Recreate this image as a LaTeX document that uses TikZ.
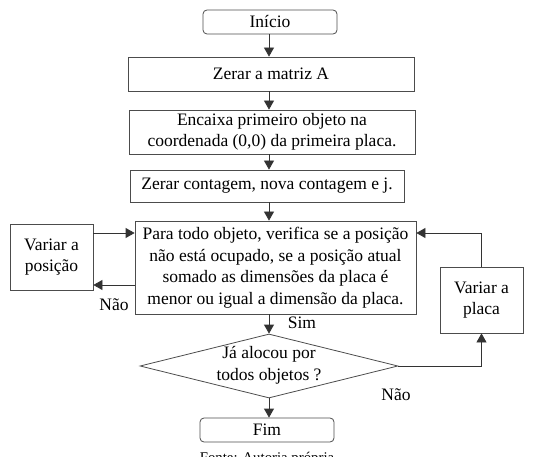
\documentclass[tikz,border=0pt]{standalone}
\usepackage{fontspec}
\setmainfont{Liberation Serif}
\usetikzlibrary{shapes.geometric,arrows.meta}
\begin{document}
\begin{tikzpicture}[x=1pt,y=-1pt,
  txt/.style={font=\fontsize{17.5}{21.5}\selectfont},
  box/.style={txt, draw=black!70, line width=0.8pt, rectangle, inner sep=0pt, align=center},
  term/.style={box, rounded corners=4pt},
  arr/.style={draw=black!80, line width=0.8pt, -{Triangle[length=9pt,width=10pt]}},
  lbl/.style={txt, inner sep=0pt}]
\useasboundingbox (0,0) rectangle (546,457);
\coordinate (spine) at (269,0);
\coordinate (rowA) at (0,233);
\coordinate (rowB) at (0,285);

\node[term, minimum width=134pt, minimum height=24pt] (inicio) at (270,22) {Início};
\node[box, minimum width=286pt, minimum height=34pt] (zerarA) at (271,74) {Zerar a matriz A};
\node[box, minimum width=286pt, minimum height=44pt] (encaixa) at (272,132) {Encaixa primeiro objeto na\\coordenada (0,0) da primeira placa.};
\node[box, minimum width=274pt, minimum height=32pt] (contagem) at (267,186) {Zerar contagem, nova contagem e j.};
\node[box, minimum width=281pt, minimum height=93pt] (main) at (275.5,267.5) {Para todo objeto, verifica se a posição\\não está ocupado, se a posição atual\\somado as dimensões da placa é\\menor ou igual a dimensão da placa.};
\node[box, minimum width=83pt, minimum height=66pt] (posicao) at (51.5,257) {Variar a\\posição};
\node[box, minimum width=83pt, minimum height=66pt] (placa) at (481.5,300) {Variar a\\placa};
\node[diamond, draw=black!70, line width=0.8pt, minimum width=258pt, minimum height=64pt, inner sep=0pt] (dec) at (269,366) {};
\node[lbl, align=center] (dect) at (269,365.5) {Já alocou por\\todos objetos ?};
\node[term, minimum width=134pt, minimum height=24pt] (fim) at (267,430) {Fim};

\node[lbl] (nao1) at (114,305) {Não};
\node[lbl] (sim) at (302,323) {Sim};
\node[lbl] (nao2) at (396,395) {Não};
\node[font=\fontsize{14.8}{17}\selectfont, anchor=base, inner sep=0pt] (fonte) at (267,462) {Fonte: Autoria própria};

\draw[arr] (inicio.south -| spine) -- (zerarA.north -| spine);
\draw[arr] (zerarA.south -| spine) -- (encaixa.north -| spine);
\draw[arr] (encaixa.south -| spine) -- (contagem.north -| spine);
\draw[arr] (contagem.south -| spine) -- (main.north -| spine);
\draw[arr] (main.south -| dec) -- (dec.north);
\draw[arr] (dec.south) -- (fim.north -| dec);
\draw[arr] (posicao.east |- rowA) -- (main.west |- rowA);
\draw[arr] (main.west |- rowB) -- (posicao.east |- rowB);
\draw[arr] (placa.north) |- (main.east |- rowA);
\draw[arr] (dec.east) -| (placa.south);
\end{tikzpicture}
\end{document}
